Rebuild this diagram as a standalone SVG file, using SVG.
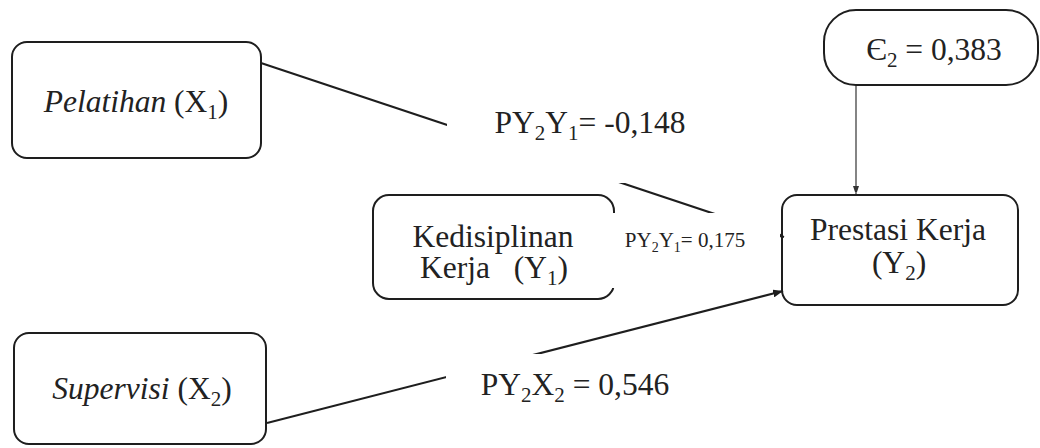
<svg xmlns="http://www.w3.org/2000/svg" width="1040" height="448" viewBox="0 0 1040 448">
<style>
.box{fill:none;stroke:#1e1e1e;stroke-width:2}
.t{font-family:"Liberation Serif","Times New Roman",serif;font-size:31.5px;fill:#222;text-anchor:middle}
.s{font-family:"Liberation Serif","Times New Roman",serif;font-size:21px;fill:#222;text-anchor:middle}
.line{stroke:#1e1e1e;stroke-width:2;fill:none}
.thin{stroke:#333;stroke-width:1.2;fill:none}
.bg{fill:#fff;stroke:none}
</style>
<defs>
<marker id="arr" markerUnits="userSpaceOnUse" markerWidth="10" markerHeight="8" refX="10" refY="4" orient="auto">
<path d="M0,0 L10,4 L0,8 z" fill="#1e1e1e"/>
</marker>
<marker id="arrS" markerUnits="userSpaceOnUse" markerWidth="6" markerHeight="9" refX="9" refY="3" orient="auto">
<path d="M0,0 L9,3 L0,6 z" fill="#333"/>
</marker>
</defs>
<rect width="1040" height="448" fill="#fff"/>
<g id="connectors">
<line class="line" x1="261" y1="63" x2="784" y2="237" marker-end="url(#arr)"/>
<line class="line" x1="267" y1="423" x2="783" y2="291" marker-end="url(#arr)"/>
<line class="thin" x1="856" y1="85" x2="856" y2="195" marker-end="url(#arrS)"/>
</g>
<g id="pelatihan">
<rect class="box" x="12" y="42" width="249" height="116" rx="15"/>
<text class="t" x="136" y="112"><tspan font-style="italic">Pelatihan</tspan> (X<tspan font-size="21" dy="7">1</tspan><tspan dy="-7">)</tspan></text>
</g>
<g id="supervisi">
<rect class="box" x="14" y="333" width="252" height="111" rx="15"/>
<text class="t" x="142" y="399"><tspan font-style="italic">Supervisi</tspan> (X<tspan font-size="21" dy="7">2</tspan><tspan dy="-7">)</tspan></text>
</g>
<g id="kedisiplinan">
<rect class="box" x="373" y="195" width="241" height="104" rx="16"/>
<text class="t" x="493" y="247">Kedisiplinan</text>
<text class="t" x="494" y="278" xml:space="preserve">Kerja   (Y<tspan font-size="21" dy="7">1</tspan><tspan dy="-7">)</tspan></text>
</g>
<g id="prestasi">
<rect class="box" x="782" y="195" width="236" height="110" rx="15"/>
<text class="t" x="898" y="240">Prestasi Kerja</text>
<text class="t" x="899" y="273">(Y<tspan font-size="21" dy="7">2</tspan><tspan dy="-7">)</tspan></text>
</g>
<g id="epsilon">
<rect class="box" x="824" y="10" width="214" height="75" rx="32"/>
<text class="t" x="934" y="60">Є<tspan font-size="21" dy="7">2</tspan><tspan dy="-7"> = 0,383</tspan></text>
</g>
<g id="label-py2y1-a">
<rect class="bg" x="447" y="96" width="250" height="87"/>
<text class="t" x="590" y="133">PY<tspan font-size="21" dy="7">2</tspan><tspan dy="-7">Y</tspan><tspan font-size="21" dy="7">1</tspan><tspan dy="-7">= -0,148</tspan></text>
</g>
<g id="label-py2y1-b">
<rect class="bg" x="611" y="213" width="169" height="75"/>
<text class="s" x="685" y="247">PY<tspan font-size="14" dy="5">2</tspan><tspan dy="-5">Y</tspan><tspan font-size="14" dy="5">1</tspan><tspan dy="-5">= 0,175</tspan></text>
</g>
<g id="label-py2x2">
<rect class="bg" x="446" y="354" width="260" height="60"/>
<text class="t" x="575" y="395">PY<tspan font-size="21" dy="7">2</tspan><tspan dy="-7">X</tspan><tspan font-size="21" dy="7">2</tspan><tspan dy="-7"> = 0,546</tspan></text>
</g>
</svg>
